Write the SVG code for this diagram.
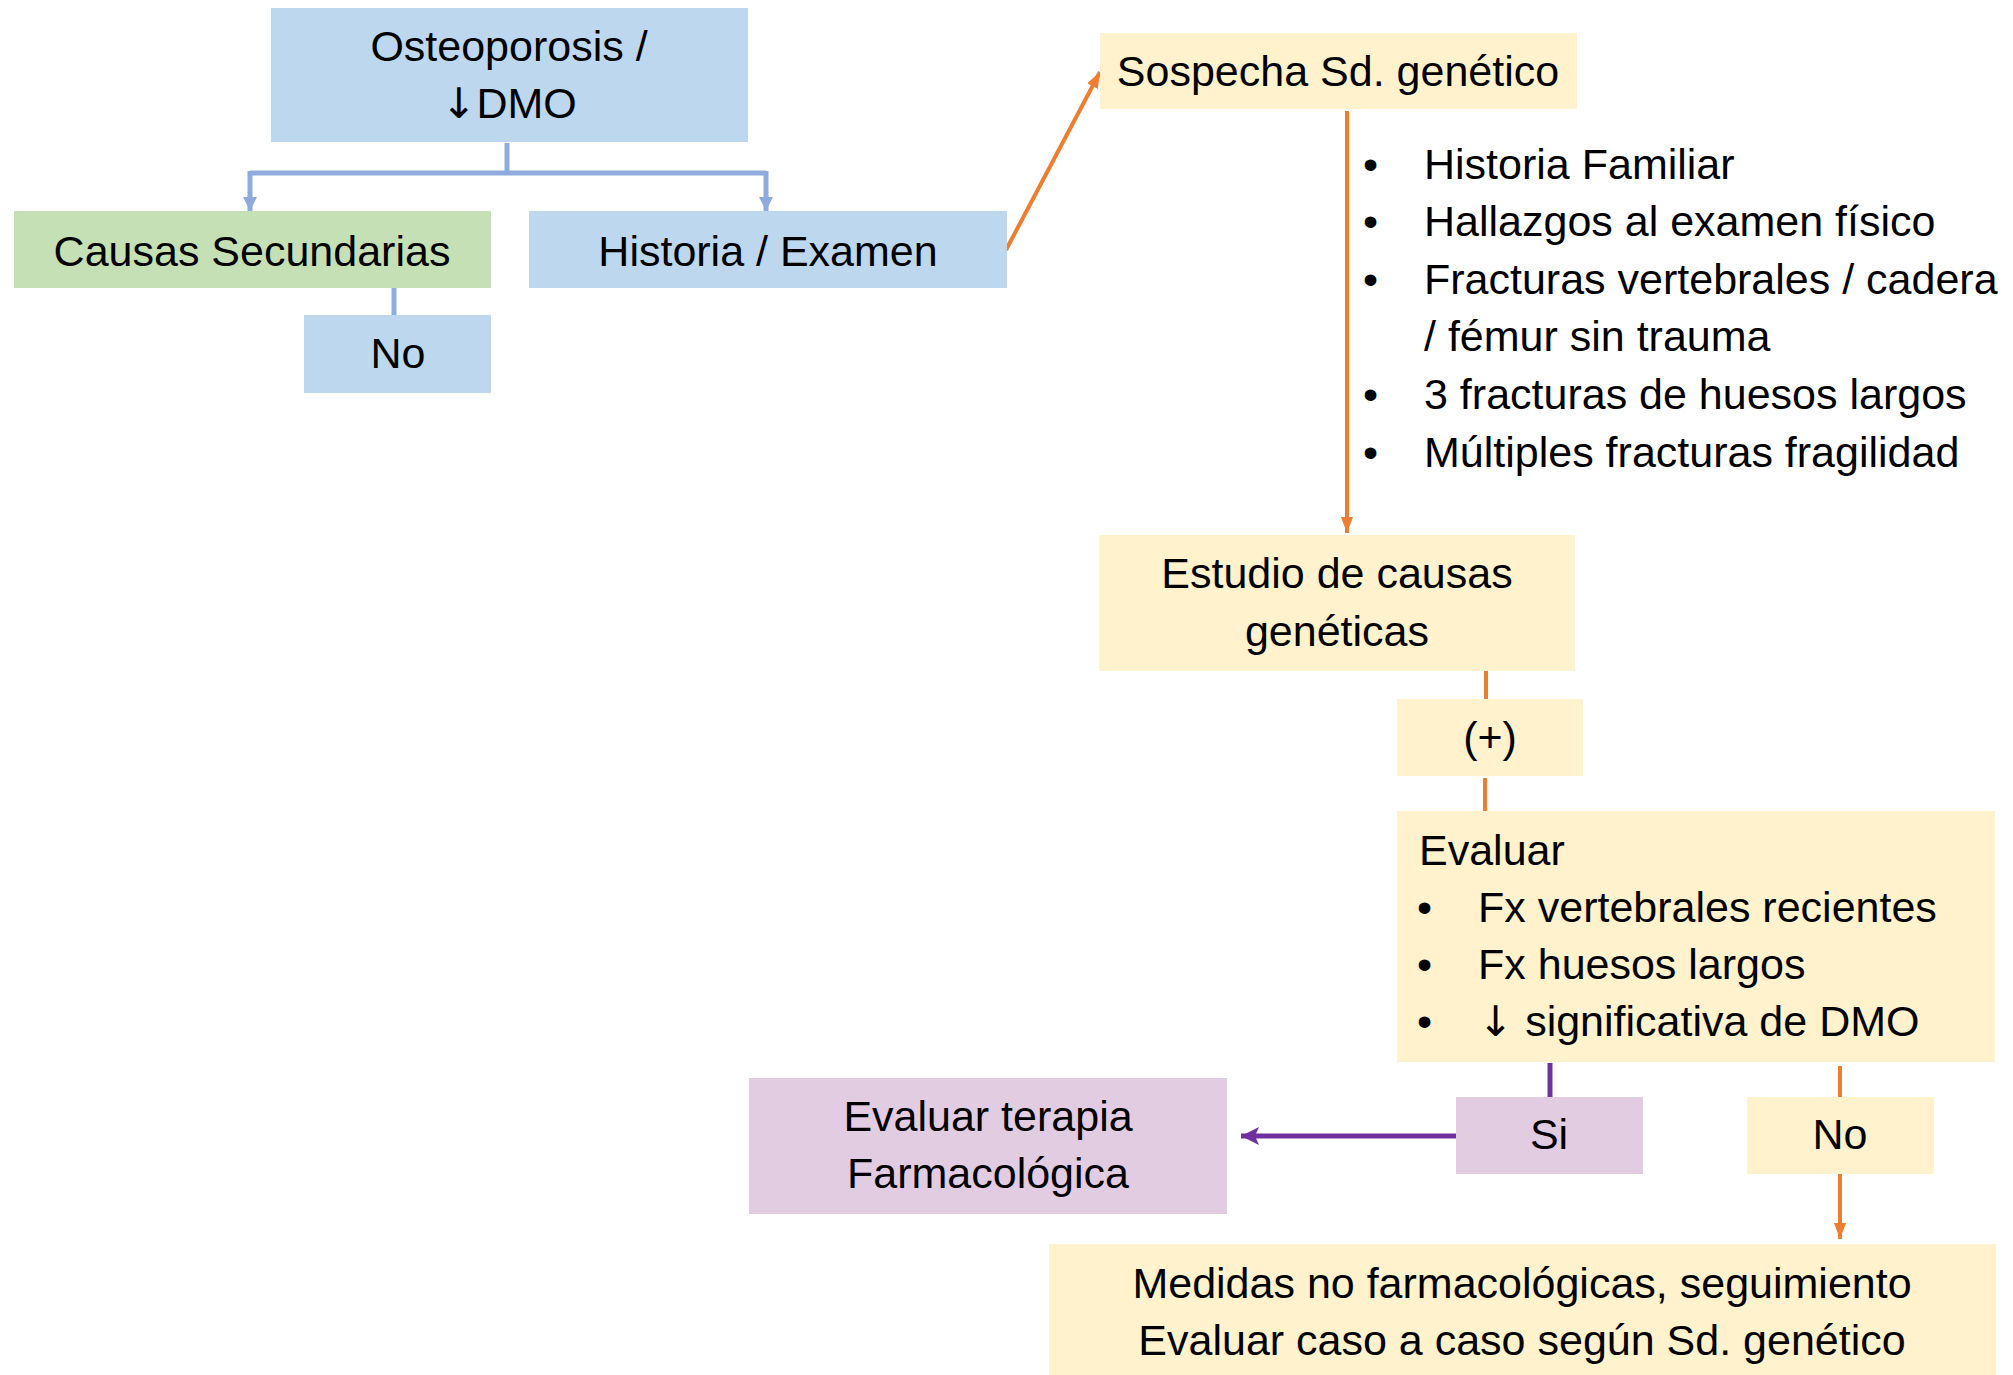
<svg xmlns="http://www.w3.org/2000/svg" width="2013" height="1375" viewBox="0 0 2013 1375">
<style>
text{font-family:"Liberation Sans",Arial,sans-serif;font-size:43px;fill:#000}
.c{text-anchor:middle}
.arr{font-family:"DejaVu Sans",sans-serif;font-size:42px}
.blue{fill:#BDD7EE}.green{fill:#C5E0B4}.yel{fill:#FFF2CC}.pur{fill:#E2CCE2}
.lb{stroke:#8FAADC;stroke-width:5;fill:none}
.lo{stroke:#ED7D31;stroke-width:4;fill:none}
.lp{stroke:#7030A0;stroke-width:5;fill:none}
</style>
<defs>
<marker id="ab" markerUnits="userSpaceOnUse" markerWidth="16" markerHeight="16" refX="14" refY="8" orient="auto"><path d="M0,1 L14,8 L0,15 Z" fill="#8FAADC"/></marker>
<marker id="ao" markerUnits="userSpaceOnUse" markerWidth="18" markerHeight="14" refX="16" refY="7" orient="auto"><path d="M0,1 L16,7 L0,13 Z" fill="#ED7D31"/></marker>
<marker id="ap" markerUnits="userSpaceOnUse" markerWidth="20" markerHeight="20" refX="18" refY="10" orient="auto"><path d="M0,1 L18,10 L0,19 L4,10 Z" fill="#7030A0"/></marker>
</defs>
<g id="connectors">
<path class="lb" d="M507,143 V173"/>
<path class="lb" d="M250,173 H766"/>
<path class="lb" d="M250,171 V211" marker-end="url(#ab)"/>
<path class="lb" d="M766,171 V211" marker-end="url(#ab)"/>
<path class="lb" d="M394,284 V315"/>
<path class="lo" d="M1006,250 L1100,72" marker-end="url(#ao)"/>
<path class="lo" d="M1347,111 V533" marker-end="url(#ao)"/>
<path class="lo" d="M1486,669 V700"/>
<path class="lo" d="M1485,778 V811"/>
<path class="lp" d="M1550,1063 V1097"/>
<path class="lp" d="M1456,1136 H1241" marker-end="url(#ap)"/>
<path class="lo" d="M1840,1066 V1098"/>
<path class="lo" d="M1840,1174 V1239" marker-end="url(#ao)"/>
</g>
<g id="n-osteo"><rect class="blue" x="271" y="8" width="477" height="134"/><text class="c" x="509" y="61">Osteoporosis /</text><text class="c" x="509" y="118"><tspan class="arr">↓</tspan>DMO</text></g>
<g id="n-causas"><rect class="green" x="14" y="211" width="477" height="77"/><text class="c" x="252" y="266">Causas Secundarias</text></g>
<g id="n-historia"><rect class="blue" x="529" y="211" width="478" height="77"/><text class="c" x="768" y="266">Historia / Examen</text></g>
<g id="n-no1"><rect class="blue" x="304" y="315" width="187" height="78"/><text class="c" x="398" y="368">No</text></g>
<g id="n-sospecha"><rect class="yel" x="1100" y="33" width="477" height="76"/><text class="c" x="1338" y="86">Sospecha Sd. genético</text></g>
<g id="n-criterios">
<text x="1363" y="179">•</text><text x="1424" y="179">Historia Familiar</text>
<text x="1363" y="236">•</text><text x="1424" y="236">Hallazgos al examen físico</text>
<text x="1363" y="294">•</text><text x="1424" y="294">Fracturas vertebrales / cadera</text>
<text x="1424" y="351">/ fémur sin trauma</text>
<text x="1363" y="409">•</text><text x="1424" y="409">3 fracturas de huesos largos</text>
<text x="1363" y="467">•</text><text x="1424" y="467">Múltiples fracturas fragilidad</text>
</g>
<g id="n-estudio"><rect class="yel" x="1099" y="535" width="476" height="136"/><text class="c" x="1337" y="588">Estudio de causas</text><text class="c" x="1337" y="646">genéticas</text></g>
<g id="n-pos"><rect class="yel" x="1397" y="699" width="186" height="77"/><text class="c" x="1490" y="752">(+)</text></g>
<g id="n-evaluar"><rect class="yel" x="1397" y="811" width="598" height="251"/>
<text x="1419" y="865">Evaluar</text>
<text x="1417" y="922">•</text><text x="1478" y="922">Fx vertebrales recientes</text>
<text x="1417" y="979">•</text><text x="1478" y="979">Fx huesos largos</text>
<text x="1417" y="1036">•</text><text x="1478" y="1036"><tspan class="arr">↓</tspan> significativa de DMO</text>
</g>
<g id="n-terapia"><rect class="pur" x="749" y="1078" width="478" height="136"/><text class="c" x="988" y="1131">Evaluar terapia</text><text class="c" x="988" y="1188">Farmacológica</text></g>
<g id="n-si"><rect class="pur" x="1456" y="1097" width="187" height="77"/><text class="c" x="1549" y="1149">Si</text></g>
<g id="n-no2"><rect class="yel" x="1747" y="1097" width="187" height="77"/><text class="c" x="1840" y="1149">No</text></g>
<g id="n-medidas"><rect class="yel" x="1049" y="1244" width="947" height="131"/><text class="c" x="1522" y="1298">Medidas no farmacológicas, seguimiento</text><text class="c" x="1522" y="1355">Evaluar caso a caso según Sd. genético</text></g>
</svg>
